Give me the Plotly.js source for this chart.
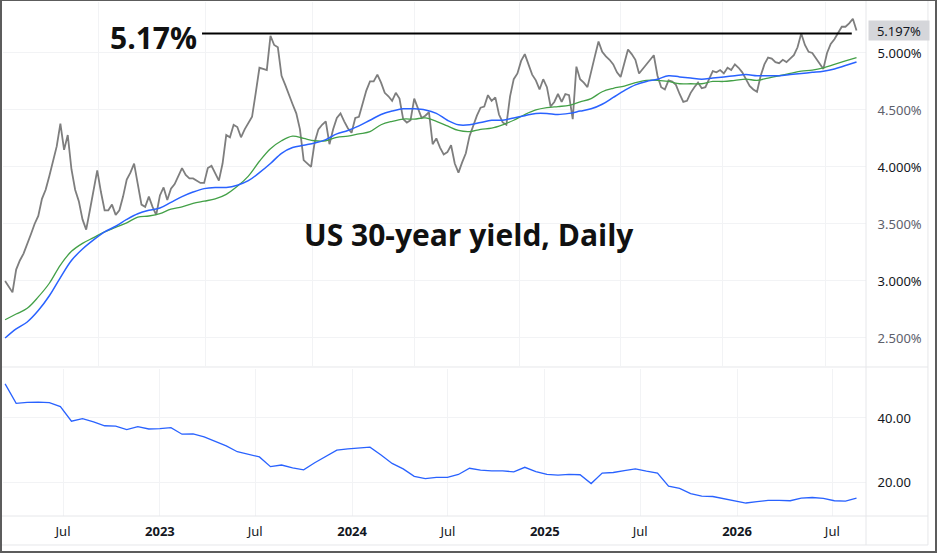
<!DOCTYPE html>
<html><head><meta charset="utf-8">
<script src="https://cdn.plot.ly/plotly-3.0.1.min.js"></script>
<style>
html,body{margin:0;padding:0;background:#fff}
#wrap{position:relative;width:937px;height:553px;overflow:hidden}
#chart{width:937px;height:553px}
#frame{position:absolute;left:0;top:0;width:937px;height:553px;box-sizing:border-box;border:2px solid #5c5c5c;border-top-width:1px;pointer-events:none}
</style>
</head><body>
<div id="wrap"><div id="chart"></div><div id="frame"></div></div>
<script>
// ---- data ----
const START_DATE = '2022-03-13';
const PRICE_STEP_DAYS = 7;     // weekly readings of the daily series
const SLOW_STEP_DAYS = 21;     // readings of the smooth lines

const yield30 = [
3.00,2.95,2.90,3.10,3.18,3.24,3.32,3.41,3.50,3.57,
3.72,3.80,3.92,4.06,4.18,4.38,4.15,4.28,3.98,3.80,
3.70,3.54,3.45,3.62,3.80,3.97,3.78,3.62,3.62,3.67,
3.58,3.62,3.74,3.89,3.95,4.03,3.85,3.67,3.65,3.74,
3.65,3.58,3.75,3.82,3.71,3.81,3.85,3.92,3.99,3.93,
3.90,3.90,3.88,3.86,3.86,3.99,4.01,3.95,3.88,4.03,
4.28,4.26,4.37,4.35,4.26,4.33,4.39,4.44,4.65,4.87,
4.86,4.85,5.15,5.07,5.05,4.80,4.72,4.63,4.55,4.47,
4.33,4.06,4.03,4.00,4.22,4.33,4.37,4.40,4.20,4.33,
4.43,4.47,4.40,4.34,4.30,4.43,4.44,4.55,4.67,4.75,
4.75,4.81,4.74,4.65,4.62,4.58,4.65,4.60,4.42,4.39,
4.41,4.60,4.52,4.43,4.45,4.48,4.20,4.25,4.17,4.11,
4.13,4.19,4.03,3.95,4.04,4.12,4.27,4.36,4.45,4.52,
4.53,4.63,4.58,4.61,4.46,4.39,4.37,4.62,4.77,4.82,
4.93,4.99,4.89,4.81,4.76,4.68,4.77,4.70,4.53,4.57,
4.64,4.57,4.64,4.63,4.42,4.88,4.77,4.74,4.70,4.85,
4.97,5.10,5.01,4.97,4.94,4.90,4.83,4.79,4.90,5.03,
4.99,4.94,4.82,4.86,4.91,4.94,4.98,4.80,4.70,4.68,
4.76,4.75,4.72,4.64,4.57,4.58,4.65,4.70,4.74,4.69,
4.70,4.77,4.84,4.83,4.85,4.82,4.87,4.85,4.90,4.87,
4.83,4.77,4.71,4.68,4.66,4.80,4.90,4.96,4.95,4.92,
4.91,4.94,4.92,4.95,4.98,5.05,5.17,5.07,5.01,5.00,
4.95,4.91,4.86,5.00,5.08,5.12,5.17,5.23,5.23,5.26,
5.30,5.197
];

const maGreen = [
2.66,2.71,2.76,2.86,2.98,3.14,3.26,3.33,3.38,3.43,
3.47,3.51,3.56,3.57,3.59,3.63,3.65,3.68,3.70,3.72,
3.76,3.83,3.92,4.05,4.16,4.23,4.27,4.25,4.23,4.23,
4.26,4.27,4.29,4.31,4.37,4.40,4.42,4.42,4.43,4.40,
4.36,4.32,4.31,4.33,4.34,4.37,4.41,4.46,4.50,4.52,
4.53,4.54,4.57,4.60,4.66,4.69,4.71,4.74,4.76,4.76,
4.75,4.73,4.73,4.73,4.75,4.75,4.76,4.77,4.76,4.78,
4.80,4.82,4.84,4.85,4.87,4.90,4.93,4.96
];

const maBlue = [
2.50,2.58,2.64,2.74,2.87,3.03,3.18,3.28,3.36,3.43,
3.48,3.54,3.59,3.62,3.64,3.69,3.74,3.78,3.81,3.82,
3.82,3.84,3.88,3.95,4.03,4.12,4.17,4.19,4.21,4.24,
4.29,4.32,4.36,4.41,4.46,4.49,4.51,4.51,4.50,4.47,
4.41,4.37,4.37,4.39,4.41,4.41,4.43,4.45,4.47,4.47,
4.46,4.47,4.49,4.51,4.55,4.61,4.67,4.72,4.75,4.77,
4.80,4.79,4.78,4.77,4.78,4.79,4.80,4.81,4.80,4.80,
4.80,4.81,4.82,4.83,4.84,4.86,4.89,4.92
];

const indicator = [
50.5,44.5,44.8,44.9,44.7,43.5,39.0,39.8,38.8,37.6,
37.5,36.4,37.3,36.6,36.7,37.0,35.0,35.1,34.2,32.7,
31.4,29.6,28.8,28.0,25.0,25.5,24.6,24.0,26.2,28.1,
30.1,30.5,30.8,31.0,28.6,26.0,24.3,22.0,21.3,21.7,
21.7,22.6,24.5,23.9,23.7,23.7,23.4,24.8,23.5,22.6,
22.4,22.6,22.5,19.8,23.0,23.2,23.8,24.3,23.6,23.0,
19.0,18.3,16.7,15.9,15.8,15.2,14.5,13.8,14.2,14.6,
14.6,14.5,15.3,15.5,15.2,14.5,14.4,15.3
];

const LEVEL = 5.17;
const LEVEL_LABEL = '5.17%';
const LEVEL_FROM = '2023-03-22';
const LEVEL_TO = '2026-08-07';
const LAST_VALUE = 5.197;
const CHART_TITLE = 'US 30-year yield, Daily';

const priceTicks = [2.5, 3.0, 3.5, 4.0, 4.5, 5.0];
const indicatorTicks = [20, 40];
const timeTicks = ['2022-07-01','2023-01-01','2023-07-01','2024-01-01','2024-07-01','2025-01-01','2025-07-01','2026-01-01','2026-07-01'];
const timeTickText = ['Jul','2023','Jul','2024','Jul','2025','Jul','2026','Jul'];
const topGridDates = ['2022-09-07','2023-03-29','2023-10-17','2024-04-29','2024-11-13','2025-05-24','2025-12-05','2026-06-19'];
const X_RANGE = ['2022-03-09','2026-09-03'];

// ---- helpers ----
function dateSeries(start, step, n) {
  const out = [];
  const t0 = Date.parse(start + 'T00:00:00Z');
  for (let i = 0; i < n; i++) {
    out.push(new Date(t0 + i * step * 86400000).toISOString().slice(0, 10));
  }
  return out;
}
const priceDates = dateSeries(START_DATE, PRICE_STEP_DAYS, yield30.length);
const slowDates = dateSeries(START_DATE, SLOW_STEP_DAYS, maGreen.length);

const DARK = '#131722';
const GREY = '#5d606b';
const GRID = '#f2f3f5';
const FONT = 'Noto Sans, Open Sans, sans-serif';
const BIG = 'Open Sans, Noto Sans, sans-serif';

const priceTickText = priceTicks.map(v => {
  const s = v.toFixed(3) + '%';
  return Number.isInteger(v) ? '<span style="color:' + DARK + '">' + s + '</span>' : '<span style="color:' + GREY + '">' + s + '</span>';
});
const indTickText = indicatorTicks.map(v => v.toFixed(2));
const timeText = timeTickText.map(t => /^\d{4}$/.test(t) ? '<b>' + t + '</b>' : t);

const traces = [
  {x: priceDates, y: yield30, type: 'scatter', mode: 'lines', line: {color: '#7e7e7e', width: 1.8}, xaxis: 'x', yaxis: 'y', hoverinfo: 'skip'},
  {x: slowDates, y: maGreen, type: 'scatter', mode: 'lines', line: {color: '#43a047', width: 1.3, shape: 'spline'}, xaxis: 'x', yaxis: 'y', hoverinfo: 'skip'},
  {x: slowDates, y: maBlue, type: 'scatter', mode: 'lines', line: {color: '#2962ff', width: 1.5, shape: 'spline'}, xaxis: 'x', yaxis: 'y', hoverinfo: 'skip'},
  {x: [LEVEL_FROM, LEVEL_TO], y: [LEVEL, LEVEL], type: 'scatter', mode: 'lines', line: {color: '#000', width: 2}, xaxis: 'x', yaxis: 'y', hoverinfo: 'skip'},
  {x: slowDates, y: indicator, type: 'scatter', mode: 'lines', line: {color: '#2962ff', width: 1.3}, xaxis: 'x2', yaxis: 'y2', hoverinfo: 'skip'}
];

const light = '#e6e7ea';
const layout = {
  width: 937, height: 553,
  margin: {l: 3, r: 71, t: 2, b: 37, pad: 0},
  paper_bgcolor: '#fff', plot_bgcolor: '#fff',
  showlegend: false,
  font: {family: FONT, size: 13, color: DARK},
  xaxis: {
    type: 'date', range: X_RANGE, domain: [0, 1], anchor: 'y',
    tickvals: topGridDates, showticklabels: false, ticks: '',
    showgrid: true, gridcolor: GRID, gridwidth: 1, zeroline: false, showline: false
  },
  xaxis2: {
    type: 'date', range: X_RANGE, domain: [0, 1], anchor: 'y2', matches: 'x',
    tickvals: timeTicks, ticktext: timeText, ticks: 'outside', ticklen: 3, tickcolor: 'rgba(0,0,0,0)',
    tickfont: {family: FONT, size: 13, color: DARK},
    showgrid: true, gridcolor: GRID, gridwidth: 1, zeroline: false, showline: false
  },
  yaxis: {
    domain: [0.2918, 1], range: [2.254, 5.447], side: 'right', anchor: 'x',
    tickvals: priceTicks, ticktext: priceTickText, ticks: 'outside', ticklen: 8, tickcolor: 'rgba(0,0,0,0)',
    tickfont: {family: FONT, size: 13},
    showgrid: true, gridcolor: GRID, zeroline: false, showline: false
  },
  yaxis2: {
    domain: [0, 0.286], range: [9.8, 55.08], side: 'right', anchor: 'x2',
    tickvals: indicatorTicks, ticktext: indTickText, ticks: 'outside', ticklen: 8, tickcolor: 'rgba(0,0,0,0)',
    tickfont: {family: FONT, size: 13, color: DARK},
    showgrid: true, gridcolor: GRID, zeroline: false, showline: false
  },
  shapes: [
    {type: 'line', xref: 'paper', yref: 'paper', x0: 1, x1: 1, y0: -0.0564, y1: 1.004, line: {color: light, width: 1}},
    {type: 'line', xref: 'paper', yref: 'paper', x0: -0.01, x1: 1.0718, y0: 0, y1: 0, line: {color: light, width: 1}},
    {type: 'line', xref: 'paper', yref: 'paper', x0: -0.01, x1: 1.0718, y0: 0.2899, y1: 0.2899, line: {color: light, width: 1}},
    {type: 'line', xref: 'paper', yref: 'paper', x0: 1.0718, x1: 1.0718, y0: -0.0564, y1: 1.004, line: {color: light, width: 1}},
    {type: 'line', xref: 'paper', yref: 'paper', x0: -0.01, x1: 1.0718, y0: -0.0564, y1: -0.0564, line: {color: light, width: 1}}
  ],
  annotations: [
    {xref: 'x', yref: 'y', x: LEVEL_FROM, y: LEVEL, text: '<b>' + LEVEL_LABEL + '</b>', showarrow: false,
     xanchor: 'right', yanchor: 'middle', xshift: -3, yshift: -4,
     font: {family: BIG, size: 30, color: '#111'}},
    {xref: 'paper', yref: 'paper', x: 0.5394, y: 0.5486, text: '<b>' + CHART_TITLE + '</b>', showarrow: false,
     xanchor: 'center', yanchor: 'middle',
     font: {family: BIG, size: 30, color: '#111'}},
    {xref: 'paper', yref: 'y', x: 1, y: LAST_VALUE, text: LAST_VALUE.toFixed(3) + '%', showarrow: false,
     xanchor: 'left', yanchor: 'middle', xshift: 2, width: 60, height: 19, align: 'center',
     bgcolor: '#d5d6da', borderpad: 0,
     font: {family: FONT, size: 13, color: DARK}}
  ]
};

Plotly.newPlot('chart', traces, layout, {staticPlot: true, displayModeBar: false});
</script>
</body></html>
